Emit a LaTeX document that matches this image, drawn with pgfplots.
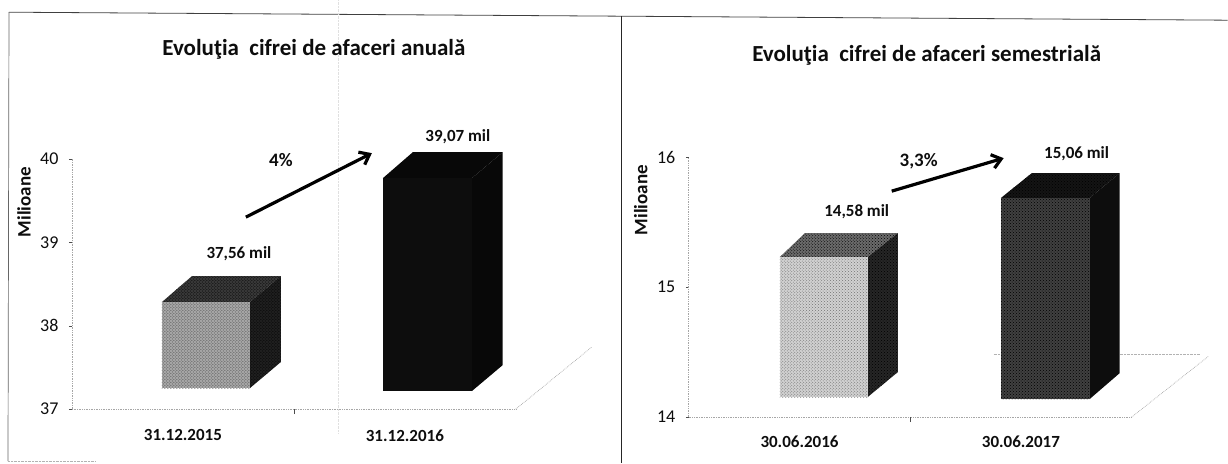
\documentclass[border=0pt]{standalone}
\usepackage{fontspec}
\setmainfont{Carlito}
\usepackage{pgfplots}
\pgfplotsset{compat=1.18}
\usetikzlibrary{arrows.meta,patterns}
\definecolor{ink}{gray}{0.05}
\pgfplotsset{
  panel/.style={
    scale only axis, clip=false, axis lines=left,
    axis line style={gray!70,densely dotted,line width=0.7pt,-},
    xmin=-0.5,xmax=1.5,
    xtick={0,1},
    major tick length=0pt,
    y tick style={black!70,line width=0.5pt},
    ytick style={/pgfplots/major tick length=3pt},
    extra x ticks={0.5},extra x tick labels={},
    extra x tick style={tick style={black!70,line width=0.5pt},major tick length=5pt},
    tick align=outside,
    /pgf/number format/assume math mode=true,
    ticklabel style={text=ink},
    yticklabel style={font=\fontsize{18}{18}\selectfont,xshift=-10pt},
    xticklabel style={font=\fontsize{17}{17}\selectfont\bfseries},
  },
  face/.style={fill=#1,draw=none,mark=none,forget plot},
  speck/.style={postaction={pattern=crosshatch dots,pattern color=#1}},
}
\begin{document}
\begin{tikzpicture}[x=1pt,y=1pt]
\path (0,0) rectangle (1228,463);
% frame
\draw[black!75,line width=0.8pt] (9,451)--(622,447);
\draw[black!75,line width=0.8pt] (622,447)--(1228,443);
\draw[black!60,line width=0.7pt] (9,451)--(8,2);
\draw[black!30,densely dotted] (8,2)--(95,2);
\draw[black!85,line width=0.8pt] (622,447)--(622,0);
% faint remains of gridlines
\draw[black!12,densely dotted] (338,463)--(338,30);
\draw[black!30,densely dotted] (994,109)--(1201,109);
% left panel
\begin{axis}[panel,at={(72pt,54pt)},anchor=south west,width=444pt,height=250pt,
  ymin=37,ymax=40,ytick={37,38,39,40},xticklabels={31.12.2015,31.12.2016},
  xticklabel style={yshift=-17pt}]
\addplot[gray!70,densely dotted,line width=0.7pt,forget plot] coordinates {(1.5,37) (1.842,37.744)};
% bar 1
\addplot[face={black!78},speck=black] coordinates {(-0.095,38.284) (0.0405,38.596) (0.441,38.596) (0.302,38.284)};
\addplot[face={black!88},speck=black] coordinates {(0.302,38.284) (0.441,38.596) (0.441,37.564) (0.302,37.252)};
\addplot[face={black!35},speck=black!70] coordinates {(-0.095,37.252) (-0.095,38.284) (0.302,38.284) (0.302,37.252)};
% bar 2
\addplot[face={black!97}] coordinates {(0.901,39.772) (1.036,40.084) (1.441,40.084) (1.302,39.772)};
\addplot[face={black!97}] coordinates {(1.302,39.772) (1.441,40.084) (1.441,37.528) (1.302,37.216)};
\addplot[face={black!95}] coordinates {(0.901,37.216) (0.901,39.772) (1.302,39.772) (1.302,37.216)};
\end{axis}
% right panel
\begin{axis}[panel,at={(689pt,46pt)},anchor=south west,width=443pt,height=260pt,
  ymin=14,ymax=16,ytick={14,15,16},xticklabels={30.06.2016,30.06.2017},
  xticklabel style={yshift=-15pt}]
\addplot[gray!70,densely dotted,line width=0.7pt,forget plot] coordinates {(1.5,14) (1.848,14.469)};
% bar 1
\addplot[face={black!58},speck=black] coordinates {(-0.089,15.231) (0.024,15.415) (0.444,15.415) (0.308,15.231)};
\addplot[face={black!85},speck=black] coordinates {(0.308,15.231) (0.444,15.415) (0.444,14.346) (0.308,14.154)};
\addplot[face={black!18},speck=black!55] coordinates {(-0.089,14.154) (-0.089,15.231) (0.308,15.231) (0.308,14.154)};
% bar 2
\addplot[face={black!92},speck=black] coordinates {(0.909,15.685) (1.049,15.877) (1.446,15.877) (1.310,15.685)};
\addplot[face={black!95}] coordinates {(1.310,15.685) (1.446,15.877) (1.446,14.338) (1.310,14.138)};
\addplot[face={black!75},speck=black] coordinates {(0.909,14.138) (0.909,15.685) (1.310,15.685) (1.310,14.138)};
\end{axis}
% texts
\tikzset{lab/.style={text=ink,font=\fontsize{17}{17}\selectfont\bfseries,inner sep=0pt,anchor=center},
         ttl/.style={text=ink,font=\fontsize{23}{23}\selectfont\bfseries,inner sep=0pt,anchor=center}}
\node[ttl] at (314,414) {Evoluţia\ \ cifrei de afaceri anuală};
\node[ttl] at (927,408) {Evoluţia\ \ cifrei de afaceri semestrială};
\node[lab,rotate=90,font=\fontsize{19}{19}\selectfont\bfseries] at (24,261) {Milioane};
\node[lab,rotate=90,font=\fontsize{19}{19}\selectfont\bfseries] at (641,263) {Milioane};
\node[lab] at (239,209) {37,56 mil};
\node[lab] at (458,326) {39,07 mil};
\node[lab] at (857,251) {14,58 mil};
\node[lab] at (1077,309) {15,06 mil};
\node[lab,font=\fontsize{19}{19}\selectfont\bfseries] at (281,303) {4\%};
\node[lab,font=\fontsize{19}{19}\selectfont\bfseries] at (919,302) {3,3\%};
\draw[line width=3.2pt,black,-{Straight Barb[length=9pt,width=14pt]}] (246,246)--(372,310);
\draw[line width=3.2pt,black,-{Straight Barb[length=9pt,width=14pt]}] (892,272)--(1004,305);
\end{tikzpicture}
\end{document}
